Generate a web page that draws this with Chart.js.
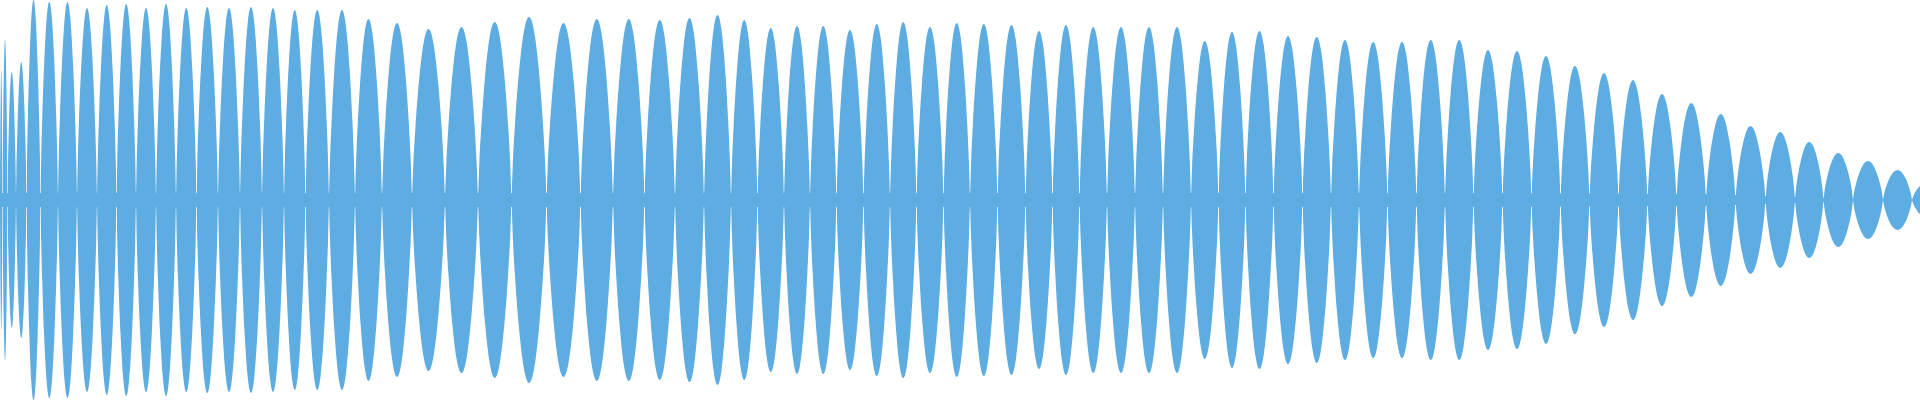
<!DOCTYPE html>
<html><head><meta charset="utf-8">
<script src="https://cdn.jsdelivr.net/npm/chart.js@4"></script>
<style>html,body{margin:0;padding:0;background:#fff}#w{width:1920px;height:400px}</style>
</head><body><div id="w"><canvas id="c"></canvas></div>
<script>
// lobe peak positions (x, 0..1920) and amplitudes (0..200, centre = 0)
const peakX = [1,4,11,21,32,49,67,87,107,126,146,166,186,207,229,251,273,295,316,342,368,396,428,462,
  494,529,564,597,629,660,690,718,744,771,797,823,850,877,903,930,957,
  983,1012,1039,1066,1093,1121,1149,1177,1205,1232,1259,1288,1317,1345,1373,1402,1431,
  1459,1488,1517,1546,1575,1604,1633,1662,1691,1721,1750,1781,1809,1838,1868,1898,1926];
const peakAmp = [130,160,128,138,200,198,198,192,195,196,192,196,192,193,192,193,192,190,190,190,181,177,171,173,
  178,183,177,181,181,180,182,185,180,172,174,174,170,176,178,173,177,
  176,175,169,175,173,173,173,173,159,168,169,164,163,160,158,158,160,
  160,150,149,144,134,127,120,106,97,86,74,68,58,47,39,30,17];
// thin centre band (half-height)
const bandX = [0,1500,1700,1800,1870,1920];
const bandH = [7,7,6,3,1,0];
const color = '#5DADE2';
// lobe outline template (style): position fraction -> height fraction
const shapeF = [0, 0.04, 0.1, 0.2, 0.35, 0.5, 0.65, 0.8, 0.9, 0.96, 1];
const shapeH = shapeF.map(f => Math.pow(Math.sin(Math.PI * f), 0.75));

const datasets = [];
const bounds = [0];
for (let i = 0; i < peakX.length - 1; i++) bounds.push((peakX[i] + peakX[i+1]) / 2);
bounds.push(peakX[peakX.length-1] + (peakX[peakX.length-1] - bounds[bounds.length-1]));
for (let i = 0; i < peakX.length; i++) {
  const a = bounds[i], b = bounds[i+1];
  for (const s of [1, -1]) {
    datasets.push({
      data: shapeF.map((f, k) => ({x: a + (b - a) * f, y: s * peakAmp[i] * shapeH[k]})),
      fill: 'origin', backgroundColor: color, borderWidth: 0, pointRadius: 0,
      cubicInterpolationMode: 'monotone'
    });
  }
}
for (const s of [1, -1]) {
  datasets.push({
    data: bandX.map((x, i) => ({x, y: s * bandH[i]})),
    fill: 'origin', backgroundColor: color, borderWidth: 0, pointRadius: 0, tension: 0
  });
}
new Chart(document.getElementById('c'), {
  type: 'line',
  data: {datasets},
  options: {
    responsive: true, maintainAspectRatio: false, animation: false,
    layout: {padding: 0},
    plugins: {legend: {display: false}, tooltip: {enabled: false}},
    scales: {
      x: {type: 'linear', min: 0, max: 1920, display: false},
      y: {min: -200, max: 200, display: false}
    }
  }
});
</script></body></html>
